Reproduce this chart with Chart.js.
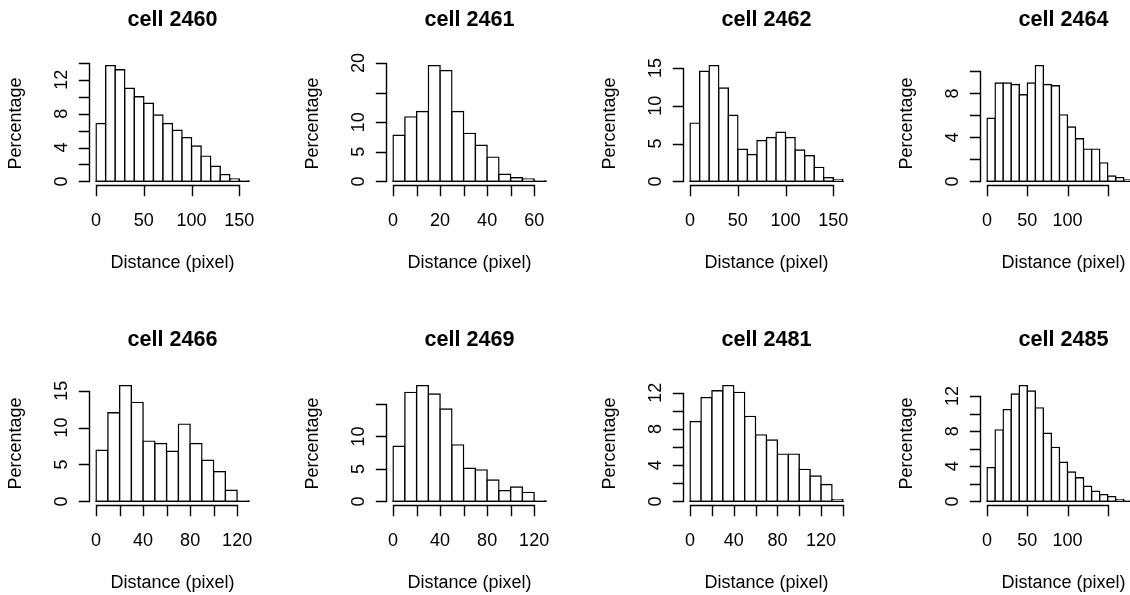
<!DOCTYPE html>
<html>
<head>
<meta charset="utf-8">
<title>Distance histograms</title>
<script src="https://cdn.jsdelivr.net/npm/chart.js@4/dist/chart.umd.min.js"></script>
<style>
  html, body { margin: 0; padding: 0; background: #fff; }
  #wrap { position: relative; width: 1130px; height: 595px; overflow: hidden; background: #fff; }
  #wrap canvas { position: absolute; }
</style>
</head>
<body>
<div id="wrap"></div>
<script>
// ═══ DATA ═══
const titles = ['cell 2460', 'cell 2461', 'cell 2462', 'cell 2464',
                'cell 2466', 'cell 2469', 'cell 2481', 'cell 2485'];
const binWidths = [10, 5, 10, 10, 10, 10, 10, 10];   // every histogram starts at 0

const pct2460 = [6.84, 13.68, 13.2, 11.0, 10.0, 9.23, 7.84, 6.84, 6.05, 5.17, 4.18, 2.98, 1.79, 0.8, 0.28, 0.06];
const pct2461 = [7.8, 10.9, 11.8, 19.55, 18.7, 11.8, 8.1, 6.1, 4.1, 1.2, 0.62, 0.4, 0.06];
const pct2462 = [7.7, 14.55, 15.3, 12.35, 8.75, 4.25, 3.55, 5.4, 5.8, 6.5, 5.8, 4.15, 3.4, 1.85, 0.5, 0.27];
const pct2464 = [5.74, 8.95, 8.95, 8.82, 7.88, 8.95, 10.53, 8.82, 8.7, 6.05, 4.95, 3.88, 2.93, 2.93, 1.68, 0.49, 0.34, 0.12, 0.05];
const pct2466 = [6.93, 12.0, 15.68, 13.41, 8.16, 7.84, 6.8, 10.47, 7.84, 5.57, 4.03, 1.5, 0.05];
const pct2469 = [8.5, 16.8, 17.84, 16.55, 14.23, 8.71, 5.1, 4.85, 3.3, 1.65, 2.22, 1.39, 0.05];
const pct2481 = [8.84, 11.49, 12.24, 12.8, 12.05, 9.4, 7.35, 6.79, 5.22, 5.22, 3.54, 2.8, 1.87, 0.19];
const pct2485 = [3.85, 8.15, 10.46, 12.23, 13.19, 12.58, 10.65, 7.77, 6.15, 4.46, 3.35, 2.69, 1.73, 1.15, 0.77, 0.54, 0.23, 0.1, 0.04];
const pctValues = [pct2460, pct2461, pct2462, pct2464, pct2466, pct2469, pct2481, pct2485];

const xTicks = [
  [0, 50, 100, 150],
  [0, 10, 20, 30, 40, 50, 60],
  [0, 50, 100, 150],
  [0, 50, 100, 150],
  [0, 20, 40, 60, 80, 100, 120],
  [0, 20, 40, 60, 80, 100, 120],
  [0, 20, 40, 60, 80, 100, 120, 140],
  [0, 50, 100, 150]
];
const xLabels = [
  [0, 50, 100, 150],
  [0, 20, 40, 60],
  [0, 50, 100, 150],
  [0, 50, 100],
  [0, 40, 80, 120],
  [0, 40, 80, 120],
  [0, 40, 80, 120],
  [0, 50, 100]
];
const yTicks = [
  [0, 2, 4, 6, 8, 10, 12, 14],
  [0, 5, 10, 15, 20],
  [0, 5, 10, 15],
  [0, 2, 4, 6, 8, 10],
  [0, 5, 10, 15],
  [0, 5, 10, 15],
  [0, 2, 4, 6, 8, 10, 12],
  [0, 2, 4, 6, 8, 10, 12]
];
const yLabels = [
  [0, 4, 8, 12],
  [0, 5, 10, 20],
  [0, 5, 10, 15],
  [0, 4, 8],
  [0, 5, 10, 15],
  [0, 5, 10],
  [0, 4, 8, 12],
  [0, 4, 8, 12]
];

const FONT = '"Liberation Sans", Arial, Helvetica, sans-serif';
const CELL_W = 297, CELL_H = 320;
const TICK = 10;
const LW = 1.4;

// ═══ R-STYLE AXES ═══
function rStyle(i) {
  return {
    id: 'rStyle' + i,
    afterDatasetsDraw(chart) {
      // bottoms of the rectangles (hist baseline)
      const ctx = chart.ctx, xs = chart.scales.x, ys = chart.scales.y;
      const n = pctValues[i].length, bw = binWidths[i];
      const y0 = ys.getPixelForValue(0);
      ctx.save();
      ctx.strokeStyle = '#000';
      ctx.lineWidth = LW;
      ctx.beginPath();
      ctx.moveTo(xs.getPixelForValue(0) - LW / 2, y0);
      ctx.lineTo(xs.getPixelForValue(bw * n) + LW / 2, y0);
      ctx.stroke();
      ctx.restore();
    },
    afterDraw(chart) {
      const ctx = chart.ctx, a = chart.chartArea;
      const xs = chart.scales.x, ys = chart.scales.y;
      const xt = xTicks[i], yt = yTicks[i];
      ctx.save();
      ctx.strokeStyle = '#000';
      ctx.fillStyle = '#000';
      ctx.lineWidth = LW;
      ctx.lineCap = 'square';

      // x axis
      const ax = Math.floor(a.bottom) - 0.5;
      ctx.beginPath();
      ctx.moveTo(Math.round(xs.getPixelForValue(xt[0])) + 0.5, ax);
      ctx.lineTo(Math.round(xs.getPixelForValue(xt[xt.length - 1])) + 0.5, ax);
      xt.forEach(v => {
        const px = Math.round(xs.getPixelForValue(v)) + 0.5;
        ctx.moveTo(px, ax);
        ctx.lineTo(px, ax + TICK);
      });
      // y axis
      const ay = Math.round(a.left) - 0.5;
      ctx.moveTo(ay, Math.round(ys.getPixelForValue(yt[0])) + 0.5);
      ctx.lineTo(ay, Math.round(ys.getPixelForValue(yt[yt.length - 1])) + 0.5);
      yt.forEach(v => {
        const py = Math.round(ys.getPixelForValue(v)) + 0.5;
        ctx.moveTo(ay, py);
        ctx.lineTo(ay - TICK, py);
      });
      ctx.stroke();

      // tick labels
      ctx.font = '18px ' + FONT;
      ctx.textAlign = 'center';
      ctx.textBaseline = 'alphabetic';
      xLabels[i].forEach(v => {
        ctx.fillText(String(v), xs.getPixelForValue(v), a.bottom + 40);
      });
      yLabels[i].forEach(v => {
        ctx.save();
        ctx.translate(a.left - 23.3, ys.getPixelForValue(v));
        ctx.rotate(-Math.PI / 2);
        ctx.fillText(String(v), 0, 0);
        ctx.restore();
      });

      // axis titles
      const cx = (a.left + a.right) / 2, cy = (a.top + a.bottom) / 2;
      ctx.fillText('Distance (pixel)', cx, a.bottom + 82);
      ctx.save();
      ctx.translate(a.left - 69.3, cy);
      ctx.rotate(-Math.PI / 2);
      ctx.fillText('Percentage', 0, 0);
      ctx.restore();

      // main title
      ctx.font = 'bold 21.6px ' + FONT;
      ctx.fillText(titles[i], cx, a.top - 35.3);
      ctx.restore();
    }
  };
}

// ═══ PANELS ═══
const wrap = document.getElementById('wrap');

function makePanel(i) {
  const vals = pctValues[i], bw = binWidths[i];
  const hi = bw * vals.length;
  const ymax = Math.max(...vals);

  const canvas = document.createElement('canvas');
  canvas.width = CELL_W;
  canvas.height = CELL_H;
  canvas.style.left = (CELL_W * (i % 4)) + 'px';
  canvas.style.top = (CELL_H * Math.floor(i / 4)) + 'px';
  wrap.appendChild(canvas);

  new Chart(canvas, {
    type: 'bar',
    data: {
      datasets: [{
        data: vals.map((v, k) => ({ x: bw * (k + 0.5), y: v })),
        backgroundColor: '#fff',
        borderColor: '#000',
        borderWidth: LW,
        borderSkipped: false,
        inflateAmount: LW / 2,   // centre the border on the bin edge, like R's rect()
        barPercentage: 1,
        categoryPercentage: 1
      }]
    },
    options: {
      responsive: false,
      animation: false,
      devicePixelRatio: 1,
      layout: { padding: { left: 90, top: 61, right: 42, bottom: 134 } },
      plugins: { legend: { display: false }, tooltip: { enabled: false }, title: { display: false } },
      scales: {
        x: { type: 'linear', display: false, offset: false, min: -0.04 * hi, max: 1.04 * hi },
        y: { type: 'linear', display: false, min: -0.04 * ymax, max: 1.04 * ymax }
      }
    },
    plugins: [rStyle(i)]
  });
}

titles.forEach((t, i) => makePanel(i));
</script>
</body>
</html>
